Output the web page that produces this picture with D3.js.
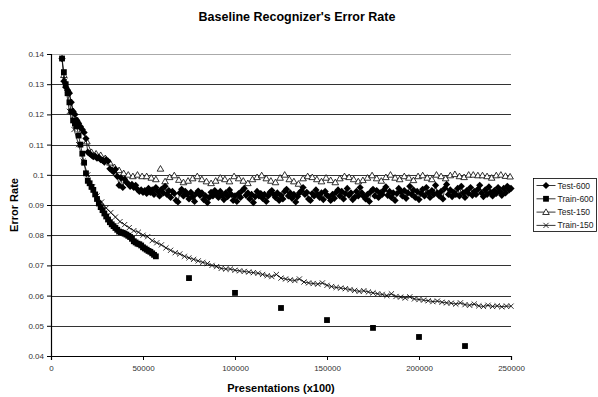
<!DOCTYPE html>
<html>
<head>
<meta charset="utf-8">
<script src="https://cdn.jsdelivr.net/npm/d3@7"></script>
<style>
  body { margin: 0; background: #fff; }
  svg { font-family: "Liberation Sans", Arial, sans-serif; }
</style>
</head>
<body>
<div id="chart"></div>
<script>
const WIDTH = 598;
const HEIGHT = 397;
const margin = { top: 54, right: 87, bottom: 41, left: 51 };
const innerW = WIDTH - margin.left - margin.right;
const innerH = HEIGHT - margin.top - margin.bottom;

// sampling schedule (presentations x100) for each series
const test600Start = 6000, test600Step = 1000;
const test150Start = 7000, test150Step = 2500;
const train150Start = 7500, train150Step = 2500;
const train600Start = 6000, train600Step = 1000;

const test600 = [
  .1385, .1310, .1290, .1280, .1270, .1240, .1210, .1200, .1180, .1170, .1160, .1150, .1140, .1120,
  .1075, .1070, .1065, .1060, .1062, .1055, .1058, .1050, .1048, .1042, .1050, .1045, .1020, .1015, .1010, .1018,
  .0995, .0965, .0990, .0958, .0985, .0975, .0970, .0962, .0968, .0958, .0965, .0952, .0945, .0950, .0942,
  .0948, .0938, .0955, .0942, .0950, .0935, .0958, .0945, .0930, .0952,
  .0940, .0962, .0935, .0948, .0925, .0945, .0938, .0915, .0910, .0940,
  .0952, .0930, .0945, .0935, .0920, .0942, .0928, .0912, .0938, .0946,
  .0932, .0940, .0918, .0930, .0908, .0925, .0942, .0930, .0948, .0936,
  .0925, .0945, .0932, .0918, .0940, .0928, .0950, .0935, .0915, .0930,
  .0912, .0938, .0925, .0948, .0955, .0932, .0940, .0920, .0935, .0908,
  .0928, .0945, .0930, .0938, .0922, .0935, .0912, .0930, .0942, .0948,
  .0935, .0925, .0940, .0915, .0932, .0920, .0945, .0952, .0930, .0940,
  .0922, .0935, .0910, .0928, .0940, .0946, .0958, .0935, .0942, .0920,
  .0915, .0938, .0930, .0950, .0935, .0925, .0940, .0918, .0945, .0932,
  .0928, .0915, .0935, .0922, .0942, .0950, .0930, .0945, .0920, .0938,
  .0955, .0932, .0940, .0918, .0925, .0945, .0930, .0958, .0940, .0928,
  .0920, .0935, .0912, .0945, .0952, .0930, .0948, .0925, .0940, .0935,
  .0950, .0960, .0932, .0945, .0925, .0940, .0915, .0938, .0955, .0945,
  .0930, .0948, .0922, .0940, .0962, .0935, .0950, .0925, .0945, .0918,
  .0938, .0952, .0930, .0958, .0940, .0925, .0948, .0935, .0965, .0940,
  .0930, .0945, .0920, .0955, .0968, .0935, .0950, .0928, .0942, .0935,
  .0955, .0930, .0962, .0940, .0925, .0948, .0938, .0958, .0932, .0945,
  .0935, .0952, .0965, .0940, .0928, .0950, .0935, .0960, .0942, .0930,
  .0948, .0938, .0958, .0945, .0932, .0955, .0940, .0962, .0950, .0955
];

const test150 = [
  .1330, .1280, .1210, .1180, .1150, .1110, .1075, .1070, .1065, .1055, .1040, .1025, .1015, .1005, .1000, .0995, .1000, .0995,
  .0995, .0990, .0985, .1020, .0978, .0992, .0998, .0983, .0975, .0980,
  .0988, .0995, .0985, .0978, .0972, .0980, .0990, .0985, .0978, .0995,
  .0988, .0980, .0972, .0985, .0992, .0998, .0988, .0980, .0975, .0990,
  .1000, .0985, .0978, .0970, .0988, .0995, .0992, .0985, .0978, .0990,
  .0982, .0975, .0988, .0995, .0992, .0985, .0978, .0982, .0990, .0998,
  .0988, .0980, .0992, .1000, .0990, .0985, .0995, .0990, .0982, .0995,
  .0998, .0990, .0985, .1000, .0995, .0988, .0998, .1002, .0995, .0992,
  .1000, .1000, .0998, .0998, .0995, .0990, .0998, .1000, .0996, .0994
];
// Test-150 points are only joined while they are recorded back to back
const test150Joined = 18;

const train150 = [
  .1310, .1210, .1150, .1100, .1045, .1000, .0960, .0930, .0910, .0890,
  .0875, .0860, .0845, .0835, .0825, .0815, .0810, .0800, .0795, .0782,
  .0775, .0768, .0758, .0750, .0742, .0738, .0730, .0725, .0720, .0715,
  .0710, .0706, .0700, .0696, .0690, .0688, .0688, .0684, .0682, .0680,
  .0678, .0676, .0674, .0670, .0666, .0663, .0670, .0658, .0655, .0652,
  .0650, .0655, .0645, .0642, .0640, .0638, .0642, .0634, .0630, .0627,
  .0625, .0623, .0620, .0617, .0614, .0616, .0612, .0609, .0606, .0604,
  .0600, .0606, .0597, .0595, .0592, .0596, .0589, .0587, .0585, .0583,
  .0580, .0582, .0578, .0576, .0575, .0572, .0576, .0570, .0568, .0572,
  .0566, .0564, .0568, .0564, .0566, .0563, .0565, .0565
];

const train600 = [
  .1385, .1340, .1300, .1270, .1240, .1210, .1180, .1170, .1160, .1130,
  .1100, .1070, .1040, .1005, .0980, .0972, .0960, .0950, .0935, .0920,
  .0905, .0893, .0883, .0872, .0862, .0852, .0843, .0836, .0830, .0824,
  .0818, .0812, .0810, .0808, .0805, .0802, .0798, .0794, .0788, .0780,
  .0776, .0772, .0770, .0766, .0760, .0756, .0752, .0748, .0745, .0740,
  .0735, .0730
];
// later, sparse checkpoints of Train-600
const train600LateX = [75000, 100000, 125000, 150000, 175000, 200000, 225000];
const train600LateY = [.0658, .0609, .0559, .0519, .0493, .0463, .0433];

const xTicks = [0, 50000, 100000, 150000, 200000, 250000];
const yTicks = [0.04, 0.05, 0.06, 0.07, 0.08, 0.09, 0.1, 0.11, 0.12, 0.13, 0.14];
const seriesNames = ['Test-600', 'Train-600', 'Test-150', 'Train-150'];

function toPoints(start, step, values) {
  return values.map((v, i) => ({ x: start + i * step, y: v }));
}

const svgRoot = d3.select('#chart').append('svg')
  .attr('width', WIDTH).attr('height', HEIGHT);

svgRoot.append('text')
  .attr('x', 297).attr('y', 21)
  .attr('text-anchor', 'middle')
  .attr('font-weight', 'bold').attr('font-size', 12.5)
  .text("Baseline Recognizer's Error Rate");

const svg = svgRoot.append('g')
  .attr('transform', `translate(${margin.left}, ${margin.top})`);

const x = d3.scaleLinear().domain([0, 250000]).range([0, innerW]);
const y = d3.scaleLinear().domain([0.04, 0.14]).range([innerH, 0]);

// gridlines
svg.append('g').selectAll('line')
  .data(yTicks.slice(1))
  .join('line')
  .attr('x1', 0).attr('x2', innerW)
  .attr('y1', d => Math.round(y(d)) + 0.5).attr('y2', d => Math.round(y(d)) + 0.5)
  .attr('stroke', d => d === 0.14 ? '#aaa' : '#333')
  .attr('stroke-width', 1);

const xAxisG = svg.append('g')
  .attr('transform', `translate(0, ${innerH})`)
  .call(d3.axisBottom(x).tickValues(xTicks).tickSize(4).tickPadding(5).tickFormat(d3.format('d')));
const yAxisG = svg.append('g')
  .call(d3.axisLeft(y).tickValues(yTicks).tickSize(4).tickPadding(3).tickFormat(d => String(+d.toFixed(2))));

[xAxisG, yAxisG].forEach(g => {
  g.select('.domain').attr('stroke', '#000').attr('stroke-width', 1.2);
  g.selectAll('.tick line').attr('stroke', '#000');
  g.selectAll('.tick text').attr('font-size', 8).attr('fill', '#333')
    .attr('font-family', '"Liberation Sans", Arial, sans-serif');
});

svgRoot.append('text')
  .attr('x', margin.left + innerW / 2).attr('y', 392)
  .attr('text-anchor', 'middle')
  .attr('font-weight', 'bold').attr('font-size', 11)
  .text('Presentations (x100)');

svgRoot.append('text')
  .attr('transform', `translate(18, ${margin.top + innerH / 2}) rotate(-90)`)
  .attr('text-anchor', 'middle')
  .attr('font-weight', 'bold').attr('font-size', 11)
  .text('Error Rate');

const line = d3.line().x(d => x(d.x)).y(d => y(d.y));

// marker painters
const markers = {
  'Test-600': (g, px, py) => g.append('path')
    .attr('d', `M${px},${py - 3.6}L${px + 3.6},${py}L${px},${py + 3.6}L${px - 3.6},${py}Z`)
    .attr('fill', '#000'),
  'Train-600': (g, px, py) => g.append('rect')
    .attr('x', px - 2.9).attr('y', py - 2.9).attr('width', 5.8).attr('height', 5.8)
    .attr('fill', '#000'),
  'Test-150': (g, px, py) => g.append('path')
    .attr('d', `M${px},${py - 3.2}L${px + 3.3},${py + 2.4}L${px - 3.3},${py + 2.4}Z`)
    .attr('fill', '#fff').attr('stroke', '#000').attr('stroke-width', 0.8),
  'Train-150': (g, px, py) => g.append('path')
    .attr('d', `M${px - 2.6},${py - 2.6}L${px + 2.6},${py + 2.6}M${px + 2.6},${py - 2.6}L${px - 2.6},${py + 2.6}`)
    .attr('stroke', '#000').attr('stroke-width', 0.8)
};

function drawSeries(name, pts, joined) {
  const g = svg.append('g');
  g.append('path').datum(pts.slice(0, joined))
    .attr('fill', 'none').attr('stroke', '#000').attr('stroke-width', 0.8)
    .attr('d', line);
  pts.forEach(p => markers[name](g, x(p.x), y(p.y)));
}

const test150Pts = toPoints(test150Start, test150Step, test150);
const train150Pts = toPoints(train150Start, train150Step, train150);
const test600Pts = toPoints(test600Start, test600Step, test600);
const train600Pts = toPoints(train600Start, train600Step, train600)
  .concat(train600LateX.map((v, i) => ({ x: v, y: train600LateY[i] })));

drawSeries('Test-150', test150Pts, test150Joined);
drawSeries('Train-150', train150Pts, train150Pts.length);
drawSeries('Test-600', test600Pts, test600Pts.length);
drawSeries('Train-600', train600Pts, train600.length);

// legend
const legend = svgRoot.append('g').attr('transform', 'translate(533.5, 178.5)');
legend.append('rect').attr('width', 63).attr('height', 53)
  .attr('fill', '#fff').attr('stroke', '#000').attr('stroke-width', 0.8);
seriesNames.forEach((name, i) => {
  const ly = 7 + i * 13.3;
  const row = legend.append('g');
  row.append('line').attr('x1', 3).attr('x2', 22).attr('y1', ly).attr('y2', ly)
    .attr('stroke', '#000').attr('stroke-width', 0.8);
  markers[name](row, 12.5, ly);
  row.append('text').attr('x', 24).attr('y', ly + 3)
    .attr('font-size', 8.5).attr('fill', '#222').text(name);
});
</script>
</body>
</html>
